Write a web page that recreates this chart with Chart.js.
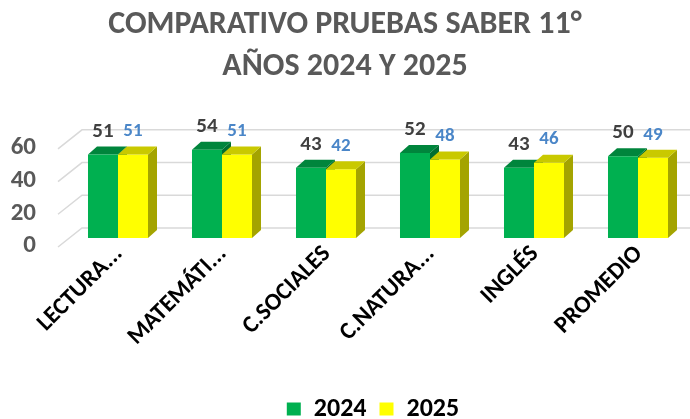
<!DOCTYPE html>
<html><head><meta charset="utf-8">
<script src="https://cdn.jsdelivr.net/npm/chart.js@4/dist/chart.umd.min.js"></script>
<style>html,body{margin:0;padding:0;background:#fff;overflow:hidden}</style>
</head><body>
<canvas id="c" width="690" height="419" style="display:block;width:690px;height:419px"></canvas>
<script>
const categories = ['LECTURA...', 'MATEMÁTI...', 'C.SOCIALES', 'C.NATURA...', 'INGLÉS', 'PROMEDIO'];
const values2024 = [51, 54, 43, 52, 43, 50];
const values2025 = [51, 51, 42, 48, 46, 49];
const seriesNames = ['2024', '2025'];
const yTicks = [0, 20, 40, 60];
const titleLines = ['COMPARATIVO PRUEBAS SABER 11°', 'AÑOS 2024 Y 2025'];

const FONT = 'Carlito';
const DX = 9, DY = 8;      // bar depth
const WF = 9, WB = 10;     // wall offsets (front / back)
const faceColors = [
  {top: '#00853c', side: '#006e31'},
  {top: '#c9c900', side: '#a4a400'}
];

function drawFaces(ctx, bar, col) {
  const {x, y, base, width} = bar.getProps(['x', 'y', 'base', 'width'], true);
  const l = x - width / 2, r = x + width / 2;
  ctx.fillStyle = col.side;
  ctx.beginPath();
  ctx.moveTo(r, y); ctx.lineTo(r + DX, y - DY); ctx.lineTo(r + DX, base - DY); ctx.lineTo(r, base);
  ctx.closePath(); ctx.fill();
  ctx.fillStyle = col.top;
  ctx.beginPath();
  ctx.moveTo(l, y); ctx.lineTo(l + DX, y - DY); ctx.lineTo(r + DX, y - DY); ctx.lineTo(r, y);
  ctx.closePath(); ctx.fill();
}

const threeD = {
  id: 'threeD',
  afterLayout(chart) {
    const lg = chart.legend;
    lg.left += 28; lg.right += 28;
    lg.top += 13; lg.bottom += 13;
  },
  beforeDatasetsDraw(chart) {
    const {ctx, chartArea, scales: {y}} = chart;
    ctx.save();
    ctx.strokeStyle = '#d9d9d9';
    ctx.lineWidth = 1.5;
    yTicks.forEach(v => {
      const py = y.getPixelForValue(v);
      ctx.beginPath();
      ctx.moveTo(chartArea.left - 8, py + WF);
      ctx.lineTo(chartArea.left + 16, py - WB);
      ctx.lineTo(chart.width, py - WB);
      ctx.stroke();
    });
    chart.getDatasetMeta(0).data.forEach(b => drawFaces(ctx, b, faceColors[0]));
    ctx.restore();
  },
  afterDatasetsDraw(chart) {
    const ctx = chart.ctx;
    ctx.save();
    chart.getDatasetMeta(1).data.forEach(b => drawFaces(ctx, b, faceColors[1]));
    const lab = [
      {color: '#404040', font: 'bold 21px ' + FONT},
      {color: '#4a86c8', font: 'bold 19px ' + FONT}
    ];
    [0, 1].forEach(di => {
      const meta = chart.getDatasetMeta(di);
      const data = chart.data.datasets[di].data;
      meta.data.forEach((b, i) => {
        const {x, y} = b.getProps(['x', 'y'], true);
        ctx.fillStyle = lab[di].color;
        ctx.font = lab[di].font;
        ctx.textAlign = 'center';
        ctx.textBaseline = 'middle';
        ctx.fillText(String(data[i]), x, y - 23);
      });
    });
    ctx.restore();
  }
};

new Chart(document.getElementById('c'), {
  type: 'bar',
  data: {
    labels: categories,
    datasets: [
      {label: seriesNames[0], data: values2024, backgroundColor: '#00b050', borderWidth: 0},
      {label: seriesNames[1], data: values2025, backgroundColor: '#ffff00', borderWidth: 0}
    ]
  },
  options: {
    responsive: false,
    animation: false,
    devicePixelRatio: 1,
    layout: {padding: 0},
    datasets: {bar: {categoryPercentage: 0.577, barPercentage: 1.0}},
    plugins: {
      tooltip: {enabled: false},
      title: {
        display: true,
        text: titleLines,
        color: '#595959',
        font: {family: FONT, size: 32, weight: 'bold', lineHeight: 1.31},
        padding: {top: 4, bottom: 52}
      },
      legend: {
        position: 'bottom',
        labels: {
          boxWidth: 14, boxHeight: 13, padding: 13,
          color: '#000',
          font: {family: FONT, size: 26, weight: 'bold'}
        }
      }
    },
    scales: {
      x: {
        grid: {display: false, drawTicks: false},
        border: {display: false},
        ticks: {
          autoSkip: false, minRotation: 45, maxRotation: 45,
          padding: 2, labelOffset: 1, color: '#000',
          font: {family: FONT, size: 24, weight: 'bold'}
        },
        afterFit(s) { s.height = 132; }
      },
      y: {
        min: 0, max: 60,
        grid: {display: false, drawTicks: false},
        border: {display: false},
        ticks: {
          autoSkip: false, stepSize: 20, padding: 30, labelOffset: 8, color: '#595959',
          font: {family: FONT, size: 25, weight: 'bold'}
        },
        afterFit(s) { s.width = 66; }
      }
    }
  },
  plugins: [threeD]
});
</script>
</body></html>
